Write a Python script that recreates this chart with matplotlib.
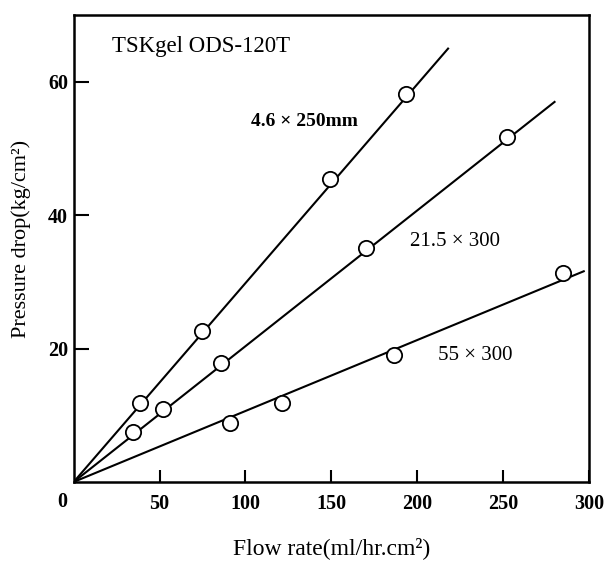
import matplotlib.pyplot as plt

# data
flow_46 = [38.7, 74.6, 149, 193.6]
drop_46 = [11.8, 22.7, 45.4, 58.2]
flow_215 = [34.7, 52, 85.5, 170, 252.6]
drop_215 = [7.5, 10.9, 17.8, 35.1, 51.8]
flow_55 = [91.3, 121.4, 186.7, 285]
drop_55 = [8.8, 11.9, 19.1, 31.3]

# fitted lines: from origin to end point
line_46 = ([0, 218], [0, 65])
line_215 = ([0, 280], [0, 57])
line_55 = ([0, 297], [0, 31.6])

x_ticks = [50, 100, 150, 200, 250, 300]
y_ticks = [20, 40, 60]

plt.rcParams['font.family'] = ['Liberation Serif', 'DejaVu Serif']

fig = plt.figure(figsize=(6.04, 5.65), dpi=100)
ax = fig.add_axes([0.122, 0.147, 0.853, 0.826])

for (lx, ly), fx, fy in [(line_46, flow_46, drop_46),
                         (line_215, flow_215, drop_215),
                         (line_55, flow_55, drop_55)]:
    ax.plot(lx, ly, color='black', lw=1.5, zorder=2)
    ax.plot(fx, fy, 'o', ms=11, mfc='white', mec='black', mew=1.3, zorder=3)

ax.set_xlim(0, 300)
ax.set_ylim(0, 70)
ax.set_xticks(x_ticks)
ax.set_yticks(y_ticks)
ax.set_xticklabels([str(t) for t in x_ticks], fontsize=14.5, fontweight='bold')
ax.set_yticklabels([str(t) for t in y_ticks], fontsize=14.5, fontweight='bold')
ax.tick_params(axis='both', direction='in', length=9, width=1.5, pad=9)
ax.tick_params(axis='y', length=11, pad=4)
for s in ax.spines.values():
    s.set_linewidth(1.8)

ax.text(-4, -1.5, '0', ha='right', va='top', fontsize=14.5, fontweight='bold')

ax.text(0.074, 0.955, 'TSKgel ODS-120T', transform=ax.transAxes, fontsize=16.5,
        ha='left', va='top')
ax.text(103, 54, '4.6 × 250mm', fontsize=14, fontweight='bold', ha='left', va='center')
ax.text(196, 36, '21.5 × 300', fontsize=15, ha='left', va='center')
ax.text(212, 19, '55 × 300', fontsize=15, ha='left', va='center')

ax.set_xlabel('Flow rate(ml/hr.cm²)', fontsize=17)
ax.xaxis.set_label_coords(0.5, -0.118)
ax.set_ylabel('Pressure drop(kg/cm²)', fontsize=16)
ax.yaxis.set_label_coords(-0.083, 0.52)

fig.savefig('out.png', dpi=100)
